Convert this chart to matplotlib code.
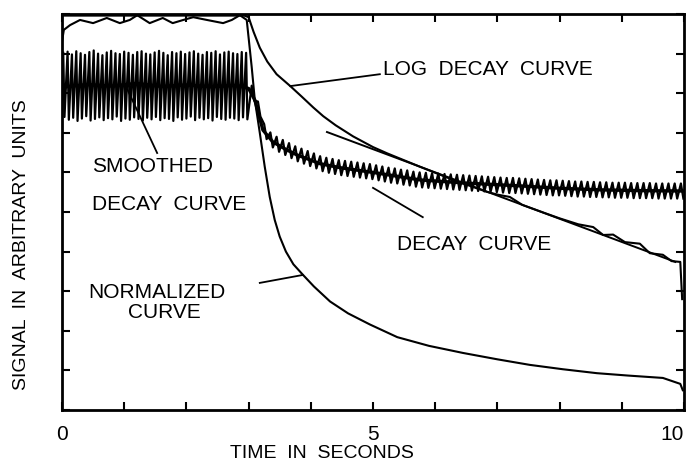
import numpy as np
import matplotlib
matplotlib.use('Agg')
import matplotlib.pyplot as plt

plt.rcParams['font.family'] = ['Liberation Sans', 'DejaVu Sans']

# normalized curve (starts at the top, drops after 3 s)
norm_t = [0.0, 0.03, 0.13, 0.29, 0.50, 0.72, 0.93, 1.09, 1.21, 1.41, 1.62, 1.78, 1.95, 2.11, 2.33, 2.59,
          2.73, 2.86, 2.97, 3.05, 3.10, 3.18, 3.26, 3.34, 3.42, 3.50, 3.60, 3.72, 3.87, 4.05, 4.31, 4.60,
          4.95, 5.39, 5.90, 6.45, 7.00, 7.52, 8.05, 8.60, 9.10, 9.66, 9.94, 9.98]
norm_v = [9.30, 9.60, 9.72, 9.85, 9.77, 9.90, 9.77, 9.85, 9.97, 9.77, 9.90, 9.77, 9.85, 9.92, 9.85, 9.77,
          9.85, 9.97, 9.85, 8.66, 7.83, 7.00, 6.14, 5.38, 4.80, 4.38, 4.00, 3.68, 3.42, 3.12, 2.74, 2.44,
          2.16, 1.84, 1.62, 1.44, 1.28, 1.14, 1.03, 0.93, 0.87, 0.81, 0.66, 0.50]

# log decay curve (measured)
log_t = [0.0, 2.93, 3.00, 3.08, 3.18, 3.30, 3.45, 3.67, 3.85, 4.04, 4.20, 4.40, 4.68, 5.00, 5.23, 5.76,
         6.29, 6.83, 7.00, 7.20, 7.40, 7.75, 8.00, 8.30, 8.54, 8.70, 8.86, 9.05, 9.29, 9.45, 9.66, 9.80,
         9.94, 9.97]
log_v = [9.96, 9.96, 9.92, 9.55, 9.15, 8.80, 8.48, 8.18, 7.92, 7.64, 7.42, 7.19, 6.91, 6.64, 6.48, 6.14,
         5.81, 5.51, 5.44, 5.38, 5.18, 4.98, 4.84, 4.69, 4.62, 4.42, 4.43, 4.24, 4.20, 3.96, 3.92, 3.76,
         3.74, 2.80]

# straight fit through the log decay
fit_t = [4.26, 9.86]
fit_v = [7.02, 3.74]

# smoothed decay curve
smooth_t = [0.0, 0.4, 0.8, 1.2, 1.6, 2.0, 2.4, 2.8, 3.0, 3.1, 3.23, 3.39, 3.6, 3.78, 4.0, 4.15, 4.47,
            5.0, 5.76, 6.5, 7.36, 8.0, 8.65, 9.3, 10.0]
smooth_v = [8.15, 8.22, 8.18, 8.25, 8.17, 8.21, 8.16, 8.20, 8.12, 7.83, 7.07, 6.77, 6.58, 6.44, 6.31,
            6.22, 6.12, 6.00, 5.81, 5.73, 5.66, 5.60, 5.56, 5.54, 5.53]

# raw decay curve: peaks and troughs of the oscillation
hi_pre = [9.02, 9.05, 8.98, 9.06, 9.01, 8.97, 9.04, 9.08, 9.00, 8.96, 9.03, 9.07, 9.01, 8.99, 9.05,
          9.02, 8.97, 9.04, 9.06, 9.00, 8.98, 9.03, 9.07, 9.02, 8.96, 9.04, 9.01, 9.05, 8.99, 9.03,
          9.06, 9.00, 8.97, 9.04, 9.02, 9.06, 8.98, 9.03, 9.05, 9.01, 8.99, 9.04, 9.02]
lo_pre = [7.40, 7.33, 7.38, 7.30, 7.36, 7.42, 7.31, 7.35, 7.39, 7.32, 7.37, 7.34, 7.41, 7.30, 7.36,
          7.33, 7.39, 7.35, 7.31, 7.38, 7.34, 7.40, 7.32, 7.37, 7.35, 7.30, 7.39, 7.33, 7.36, 7.41,
          7.32, 7.38, 7.34, 7.37, 7.31, 7.40, 7.35, 7.33, 7.38, 7.36, 7.32, 7.39, 7.34]
hi_post = [8.19, 7.79, 7.22, 7.01, 6.90, 6.82, 6.74, 6.66, 6.60, 6.54,
           6.48, 6.41, 6.37, 6.34, 6.31, 6.29, 6.27, 6.25, 6.23, 6.21,
           6.18, 6.15, 6.12, 6.10, 6.07, 6.05, 6.02, 6.00, 5.99, 5.98,
           5.97, 5.96, 5.95, 5.94, 5.93, 5.92, 5.91, 5.90, 5.89, 5.88,
           5.87, 5.86, 5.86, 5.85, 5.84, 5.83, 5.82, 5.81, 5.80, 5.80,
           5.79, 5.78, 5.77, 5.77, 5.76, 5.76, 5.75, 5.75, 5.74, 5.74,
           5.74, 5.73, 5.73, 5.73, 5.73, 5.72, 5.72, 5.72, 5.72, 5.72]
lo_post = [7.81, 7.41, 6.84, 6.63, 6.52, 6.44, 6.36, 6.28, 6.22, 6.16,
           6.10, 6.03, 5.99, 5.96, 5.93, 5.91, 5.89, 5.87, 5.85, 5.83,
           5.80, 5.77, 5.74, 5.72, 5.69, 5.67, 5.64, 5.62, 5.61, 5.60,
           5.59, 5.58, 5.57, 5.56, 5.55, 5.54, 5.53, 5.52, 5.51, 5.50,
           5.49, 5.48, 5.48, 5.47, 5.46, 5.45, 5.44, 5.43, 5.42, 5.42,
           5.41, 5.40, 5.39, 5.39, 5.38, 5.38, 5.37, 5.37, 5.36, 5.36,
           5.36, 5.35, 5.35, 5.35, 5.35, 5.34, 5.34, 5.34, 5.34, 5.34]

xtick_labels = ['0', '', '', '', '', '5', '', '', '', '', '10']

# interleave peaks / troughs on an even time grid
t_hi_pre = np.linspace(0.02, 2.96, len(hi_pre))
t_hi_post = np.linspace(3.05, 9.95, len(hi_post))
raw_t = []
raw_v = []
for i in range(len(hi_pre)):
    raw_t += [t_hi_pre[i], t_hi_pre[i] + 0.02]
    raw_v += [hi_pre[i], lo_pre[i]]
for i in range(len(hi_post)):
    raw_t += [t_hi_post[i], t_hi_post[i] + 0.04]
    raw_v += [hi_post[i], lo_post[i]]

fig = plt.figure(figsize=(6.91, 4.61), dpi=100)
ax = fig.add_axes([0.0897, 0.1106, 0.9002, 0.859])

ax.plot(raw_t, raw_v, color='k', linewidth=1.6)
ax.plot(smooth_t, smooth_v, color='k', linewidth=2.4)
ax.plot(log_t, log_v, color='k', linewidth=1.5)
ax.plot(fit_t, fit_v, color='k', linewidth=1.4)
ax.plot(norm_t, norm_v, color='k', linewidth=1.5)

ax.set_xlim(0, 10)
ax.set_ylim(0, 10)
ax.set_xticks(range(11))
ax.set_xticklabels(xtick_labels, fontsize=15)
ax.get_xticklabels()[-1].set_ha('right')
ax.set_yticks(range(11))
ax.set_yticklabels([])
ax.tick_params(direction='in', length=6, width=1.5, top=True, right=True, pad=11)
for s in ax.spines.values():
    s.set_linewidth(2)

# labels with leader lines
lab = dict(fontsize=15, color='k')
ax.text(5.16, 8.59, 'LOG  DECAY  CURVE', va='center', ha='left', **lab)
ax.plot([5.11, 3.67], [8.48, 8.18], color='k', linewidth=1.3)
ax.text(0.48, 6.14, 'SMOOTHED', va='center', ha='left', **lab)
ax.text(0.48, 5.18, 'DECAY  CURVE', va='center', ha='left', **lab)
ax.plot([1.53, 1.05], [6.49, 8.1], color='k', linewidth=1.3)
ax.text(5.39, 4.17, 'DECAY  CURVE', va='center', ha='left', **lab)
ax.plot([5.80, 5.0], [4.87, 5.61], color='k', linewidth=1.3)
ax.text(0.42, 2.98, 'NORMALIZED', va='center', ha='left', **lab)
ax.text(1.64, 2.45, 'CURVE', va='center', ha='center', **lab)
ax.plot([3.18, 3.87], [3.21, 3.41], color='k', linewidth=1.3)

fig.text(322 / 691, 1 - 453 / 461, 'TIME  IN  SECONDS', fontsize=14, ha='center', va='center')
fig.text(22 / 691, 1 - 245 / 461, 'SIGNAL  IN  ARBITRARY  UNITS', fontsize=14, rotation=90,
         ha='center', va='center')

fig.savefig('out.png', dpi=100)
